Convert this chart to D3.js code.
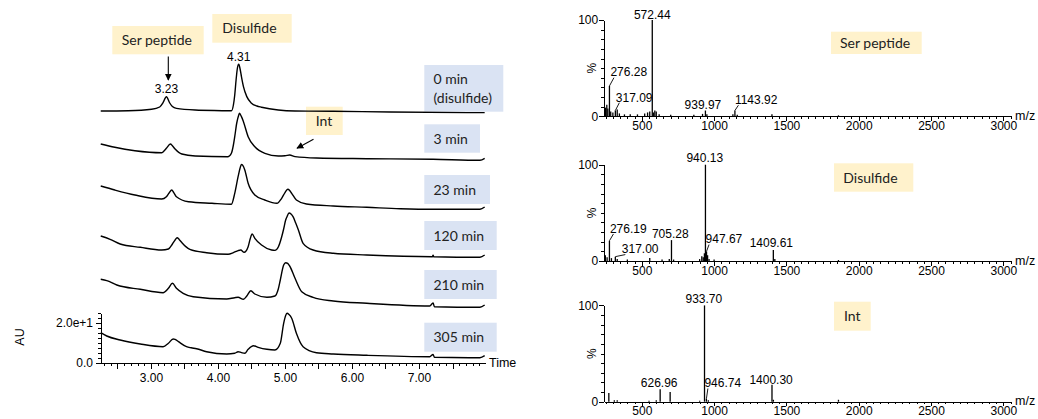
<!DOCTYPE html>
<html><head><meta charset="utf-8">
<script src="https://cdn.jsdelivr.net/npm/d3@7"></script>
<style>
html,body{margin:0;padding:0;background:#fff;}
svg{display:block;}
.ax text{font-family:"Liberation Sans",Arial,sans-serif;font-size:12px;fill:#000;}
.ax path,.ax line{stroke:#000;stroke-width:1;shape-rendering:crispEdges;}
</style></head>
<body>
<svg id="c" width="1038" height="419"></svg>
<script>
// ---------- DATA ----------
const traceNames = ["0 min", "3 min", "23 min", "120 min", "210 min", "305 min"];
const trace0 = [[2.25,1.0],[2.66,1.15],[3.01,1.85],[3.13,3.0],[3.18,5.2],[3.23,8.15],[3.28,5.0],[3.32,3.2],[3.38,2.3],[3.66,1.5],[4.15,1.15],[4.20,1.1],[4.23,4.0],[4.25,9.0],[4.27,16.5],[4.29,22.5],[4.31,24.4],[4.33,22.0],[4.35,18.2],[4.38,13.2],[4.43,8.2],[4.50,4.9],[4.58,3.5],[4.65,2.9],[4.90,1.5],[5.15,1.0],[5.72,0.85],[6.57,0.5],[7.94,0.2],[7.98,0.2]];
const trace3 = [[2.25,9.5],[2.46,7.85],[2.76,6.15],[3.16,5.15],[3.20,6.2],[3.23,7.35],[3.29,9.5],[3.32,8.6],[3.36,7.0],[3.46,4.5],[3.66,3.5],[4.15,3.15],[4.20,4.85],[4.23,9.0],[4.25,13.15],[4.28,20.0],[4.31,24.0],[4.32,24.85],[4.35,23.2],[4.38,20.65],[4.45,13.15],[4.55,8.15],[4.70,4.85],[4.90,3.5],[5.00,3.6],[5.07,4.0],[5.15,3.2],[5.47,2.5],[6.22,2.15],[7.21,1.85],[7.91,1.35],[7.98,2.35]];
const trace23 = [[2.25,13.5],[2.46,11.5],[2.76,9.0],[3.16,7.0],[3.23,8.15],[3.27,10.0],[3.31,11.5],[3.34,10.2],[3.38,8.15],[3.56,5.65],[3.91,4.85],[4.20,4.35],[4.25,9.85],[4.30,18.15],[4.33,22.5],[4.35,24.3],[4.37,23.8],[4.40,21.5],[4.45,14.85],[4.55,9.0],[4.70,6.5],[4.88,4.85],[4.95,7.35],[5.00,10.2],[5.04,11.85],[5.07,11.3],[5.10,9.85],[5.17,6.5],[5.32,4.5],[5.72,3.5],[6.22,2.85],[6.72,2.15],[7.21,1.85],[7.91,1.85],[7.98,3.0]];
const trace120 = [[2.25,13.5],[2.39,11.85],[2.54,9.5],[2.84,7.85],[3.16,6.5],[3.26,7.0],[3.32,9.5],[3.36,11.5],[3.39,12.65],[3.42,11.8],[3.46,10.25],[3.52,8.2],[3.58,6.85],[3.83,5.15],[4.15,4.35],[4.23,5.15],[4.30,6.2],[4.34,6.5],[4.39,5.35],[4.45,8.15],[4.48,12.0],[4.51,14.5],[4.55,12.35],[4.65,9.0],[4.80,6.5],[4.85,6.3],[4.90,8.0],[4.95,13.0],[4.98,17.0],[5.01,21.5],[5.03,23.15],[5.06,25.0],[5.09,24.5],[5.12,23.15],[5.16,20.0],[5.20,16.5],[5.27,9.85],[5.42,6.5],[5.72,4.85],[6.22,4.0],[7.20,3.15],[7.21,3.9],[7.22,3.15],[7.91,2.85],[7.98,4.0]];
const trace210 = [[2.25,16.85],[2.34,16.15],[2.49,14.0],[2.84,11.85],[3.18,10.15],[3.26,12.35],[3.32,14.85],[3.38,12.35],[3.48,9.85],[3.63,8.15],[4.13,7.0],[4.25,7.65],[4.30,7.85],[4.38,6.85],[4.43,8.5],[4.49,11.15],[4.55,9.5],[4.73,7.85],[4.85,8.5],[4.90,12.0],[4.93,16.5],[4.98,24.0],[5.01,25.15],[5.04,24.8],[5.07,23.5],[5.15,17.35],[5.25,10.65],[5.42,7.85],[5.72,6.0],[6.22,4.85],[7.16,3.5],[7.21,5.0],[7.23,3.15],[7.91,2.85],[7.98,4.0]];
const trace305 = [[2.25,15.15],[2.34,13.5],[2.54,11.5],[2.84,9.5],[3.18,8.15],[3.26,9.85],[3.33,12.0],[3.36,11.8],[3.41,10.65],[3.53,8.15],[3.60,7.6],[3.68,7.15],[3.83,5.65],[4.13,4.5],[4.25,4.85],[4.30,5.65],[4.35,5.2],[4.40,4.85],[4.45,6.85],[4.53,8.65],[4.60,7.85],[4.73,6.85],[4.85,6.5],[4.93,9.85],[4.98,19.85],[5.01,23.8],[5.03,24.85],[5.06,24.2],[5.10,22.35],[5.17,14.85],[5.27,8.15],[5.47,5.15],[5.72,4.5],[6.22,3.85],[7.16,3.15],[7.21,4.25],[7.23,2.85],[7.91,2.65],[7.98,3.65]];
const timeTickLabels = [3, 4, 5, 6, 7];
const auTickLabels = [0, 20];
const peakLabels = [{t: 3.23, text: "3.23"}, {t: 4.31, text: "4.31"}];

const specNames = ["Ser peptide", "Disulfide", "Int"];
const serPeaks = [[250,9],[258,12],[265,8],[276.28,31.5],[285,5],[300,4],[317.09,6],[330,7],[345,3],[380,2],[420,2],[470,2],[520,3],[540,4],[555,5],[572.44,100],[580,4],[590,6],[600,5],[620,2],[700,1.5],[860,1.5],[920,2.5],[939.97,6],[950,2],[1130,2],[1143.92,6],[1160,1.5],[1400,2],[1860,1]];
const disPeaks = [[248,6],[260,4],[276.19,21],[290,3],[317,4.5],[330,2],[400,1.5],[555,3],[640,1.5],[690,2],[705.28,21.7],[720,1.5],[900,2],[915,5],[925,4],[933,8],[940.13,100],[947.67,10],[955,6],[965,2],[1000,1.5],[1409.61,11.4],[1420,2],[1860,1]];
const intPeaks = [[272,9],[310,1.5],[330,1.5],[550,1],[600,1.5],[626.96,13],[696,10],[900,1],[933.70,100],[946.74,3],[960,1.5],[1400.30,17.5],[1410,2],[1860,2]];
const serLabels = ["572.44","276.28","317.09","939.97","1143.92"];
const disLabels = ["940.13","276.19","317.00","705.28","947.67","1409.61"];
const intLabels = ["933.70","626.96","946.74","1400.30"];
const mzTickLabels = [500, 1000, 1500, 2000, 2500, 3000];
const pctTickLabels = [0, 100];

// ---------- LAYOUT ----------
const svg = d3.select("#c");
const boxFont = 'Lato, "Open Sans", sans-serif';
const axFont = '"Liberation Sans", Arial, sans-serif';

const x = d3.scaleLinear().domain([2.254, 7.985]).range([101, 485]);
const y = d3.scaleLinear().domain([0, 25]).range([363, 313]);
const traces = [trace0, trace3, trace23, trace120, trace210, trace305];
const offsets = [125, 100, 75, 50, 25, 0];

function box(x0, y0, x1, y1, fill, lines, tx) {
  svg.append("rect").attr("x", x0).attr("y", y0).attr("width", x1 - x0).attr("height", y1 - y0).attr("fill", fill);
  const cy = (y0 + y1) / 2;
  const n = lines.length, lh = 19.5;
  lines.forEach((s, i) => {
    svg.append("text").attr("x", tx).attr("y", cy + 5 + (i - (n - 1) / 2) * lh)
      .attr("font-family", boxFont).attr("font-size", 14).attr("fill", "#222").text(s);
  });
}

// chromatogram label boxes
const blue = "#dae3f3", yellow = "#fff2cc";
const boxRows = [[65,111.7,503.3],[124.3,152.7,480],[175,204,490],[221,250,496.7],[270,299,496.7],[322.7,351.7,496.7]];
traceNames.forEach((nm, i) => {
  const r = boxRows[i];
  box(424.3, r[0], r[2], r[1], blue, i === 0 ? [nm, "(disulfide)"] : [nm], 433.5);
});
box(112.3, 26, 203.7, 54.3, yellow, ["Ser peptide"], 121.7);
box(212.3, 14, 291.7, 42.7, yellow, ["Disulfide"], 222.3);
box(306, 106.7, 342.7, 135, yellow, ["Int"], 315.7);

// arrows
const defs = svg.append("defs");
defs.append("marker").attr("id", "ah").attr("viewBox", "0 0 10 10").attr("refX", 9).attr("refY", 5)
  .attr("markerWidth", 7).attr("markerHeight", 7).attr("markerUnits", "userSpaceOnUse").attr("orient", "auto")
  .append("path").attr("d", "M0,0 L10,5 L0,10 z").attr("fill", "#000");
svg.append("line").attr("x1", 168.3).attr("y1", 56.5).attr("x2", 168.3).attr("y2", 80)
  .attr("stroke", "#000").attr("stroke-width", 1.1).attr("marker-end", "url(#ah)");
svg.append("line").attr("x1", 313.5).attr("y1", 139.3).attr("x2", 297).attr("y2", 148.2)
  .attr("stroke", "#000").attr("stroke-width", 1.1).attr("marker-end", "url(#ah)");

// traces
const line = d3.line().curve(d3.curveMonotoneX);
traces.forEach((tr, i) => {
  svg.append("path").attr("d", line(tr.map(p => [x(p[0]), y(p[1] + offsets[i])])))
    .attr("fill", "none").attr("stroke", "#000").attr("stroke-width", 1.4).attr("stroke-linejoin", "round");
});

// peak labels on 0 min trace
peakLabels.forEach(pl => {
  let best = trace0.reduce((a, b) => Math.abs(b[0] - pl.t) < Math.abs(a[0] - pl.t) ? b : a);
  svg.append("text").attr("x", x(pl.t)).attr("y", y(best[1] + offsets[0]) - 3.5)
    .attr("text-anchor", "middle").attr("font-family", axFont).attr("font-size", 12).text(pl.text);
});

// left axes
const gx = svg.append("g").attr("class", "ax").attr("transform", "translate(0,363)");
gx.call(d3.axisBottom(x).tickValues(d3.range(23, 80).map(d => d / 10)).tickSize(3).tickSizeOuter(0).tickFormat(""));
const gx2 = svg.append("g").attr("class", "ax").attr("transform", "translate(0,363)");
gx2.call(d3.axisBottom(x).tickValues(d3.range(5, 16).map(d => d / 2)).tickSize(6).tickPadding(4)
  .tickFormat(d => timeTickLabels.includes(d) ? d.toFixed(2) : ""));
gx2.select(".domain").remove();
svg.append("text").attr("x", 489).attr("y", 363).attr("dy", "0.35em").attr("font-family", axFont).attr("font-size", 12.5).text("Time");

const gy = svg.append("g").attr("class", "ax").attr("transform", "translate(101,0)");
gy.call(d3.axisLeft(y).tickValues(d3.range(0, 11).map(d => d * 2.5)).tickSize(3).tickSizeOuter(0).tickFormat(""));
const gy2 = svg.append("g").attr("class", "ax").attr("transform", "translate(101,0)");
gy2.call(d3.axisLeft(y).tickValues(auTickLabels).tickSize(5.5).tickPadding(2.5)
  .tickFormat(d => d === 0 ? "0.0" : "2.0e+1"));
gy2.select(".domain").remove();
svg.append("text").attr("transform", "translate(24,337) rotate(-90)").attr("text-anchor", "middle")
  .attr("font-family", axFont).attr("font-size", 12.5).text("AU");

// ---------- SPECTRA ----------
const xm = d3.scaleLinear().domain([240, 3058]).range([604.2, 1011.7]);
const panels = [
  {zero: 116.3, peaks: serPeaks, labels: serLabels, name: specNames[0], bx: [831, 31.7, 921.7, 54], tx: 840,
   lay: {"572.44": [0, -1.5, "m"], "276.28": [1, -9.5, "s", true], "317.09": [0.5, -9, "s", true], "939.97": [-2.5, -1.5, "m"], "1143.92": [0, -6.5, "s", true]}},
  {zero: 261, peaks: disPeaks, labels: disLabels, name: specNames[1], bx: [834, 163.3, 913.3, 191.7], tx: 843.3,
   lay: {"940.13": [-0.7, -2.6, "m"], "276.19": [0.5, -8, "s", true], "317.00": [6.5, -3.3, "s", true], "705.28": [-1.2, -1.7, "m"], "947.67": [-1, -8, "s", true], "1409.61": [-2, -2.7, "m"]}},
  {zero: 401.7, peaks: intPeaks, labels: intLabels, name: specNames[2], bx: [834, 301.7, 870.7, 330.7], tx: 844,
   lay: {"933.70": [-0.7, -2.7, "m"], "626.96": [-1, -2, "m"], "946.74": [-2, -11.5, "s", true], "1400.30": [-0.9, -1, "m"]}}
];
const ph = 96.3;
panels.forEach(p => {
  const ym = d3.scaleLinear().domain([0, 100]).range([p.zero, p.zero - ph]);
  box(p.bx[0], p.bx[1], p.bx[2], p.bx[3], yellow, [p.name], p.tx);
  // sticks
  svg.append("g").selectAll("line").data(p.peaks).join("line")
    .attr("x1", d => xm(d[0])).attr("x2", d => xm(d[0]))
    .attr("y1", ym(0)).attr("y2", d => ym(d[1]))
    .attr("stroke", "#000").attr("stroke-width", 1.3);
  // labels
  p.labels.forEach(lbl => {
    const pk = p.peaks.find(d => d[0].toFixed(2) === lbl || Math.abs(d[0] - parseFloat(lbl)) < 0.01);
    const px = xm(pk[0]), py = ym(pk[1]);
    const L = p.lay[lbl];
    const lx = px + L[0], lb = py + L[1];
    if (L[3]) {
      svg.append("line").attr("x1", px).attr("y1", py).attr("x2", lx + 3.5).attr("y2", lb + 1.2)
        .attr("stroke", "#000").attr("stroke-width", 0.9);
    }
    svg.append("text").attr("x", lx).attr("y", lb).attr("text-anchor", L[2] === "m" ? "middle" : "start")
      .attr("font-family", axFont).attr("font-size", 12).text(lbl);
  });
  // axes
  const g1 = svg.append("g").attr("class", "ax").attr("transform", `translate(0,${p.zero})`);
  g1.call(d3.axisBottom(xm).tickValues(d3.range(250, 3051, 50)).tickSize(2.5).tickSizeOuter(0).tickFormat(""));
  const g2 = svg.append("g").attr("class", "ax").attr("transform", `translate(0,${p.zero})`);
  g2.call(d3.axisBottom(xm).tickValues(mzTickLabels).tickSize(4.5).tickPadding(0.5).tickFormat(d3.format("d")));
  g2.select(".domain").remove();
  const g3 = svg.append("g").attr("class", "ax").attr("transform", "translate(604.2,0)");
  g3.call(d3.axisLeft(ym).tickValues(d3.range(0, 101, 10)).tickSize(3).tickSizeOuter(0).tickFormat(""));
  const g4 = svg.append("g").attr("class", "ax").attr("transform", "translate(604.2,0)");
  g4.call(d3.axisLeft(ym).tickValues(pctTickLabels).tickSize(5.5).tickPadding(0.5).tickFormat(d3.format("d")));
  g4.select(".domain").remove();
  svg.append("text").attr("transform", `translate(595.5,${p.zero - ph / 2}) rotate(-90)`).attr("text-anchor", "middle")
    .attr("font-family", axFont).attr("font-size", 12).text("%");
  svg.append("text").attr("x", 1015).attr("y", p.zero).attr("dy", "0.3em")
    .attr("font-family", axFont).attr("font-size", 12.5).text("m/z");
});
</script>
</body></html>
